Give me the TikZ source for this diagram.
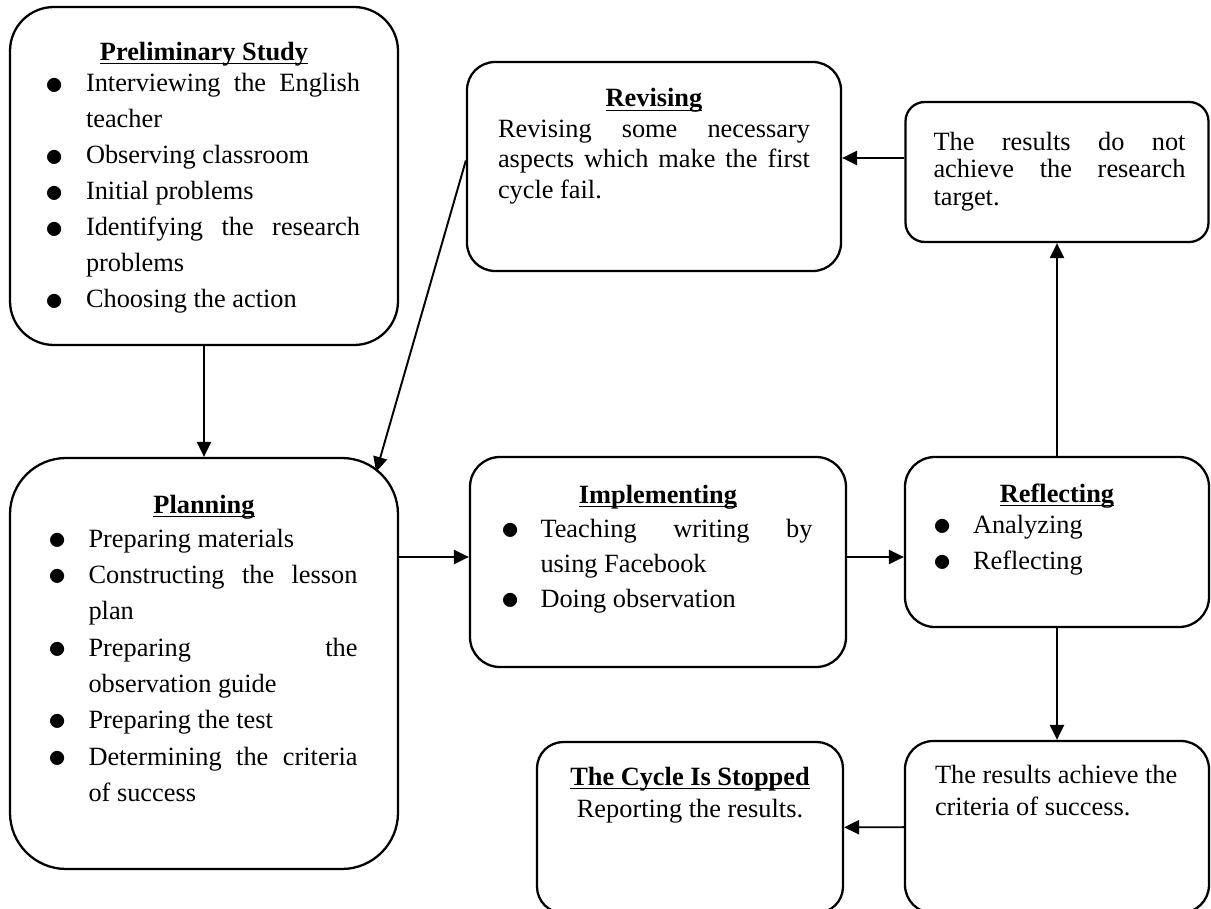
\documentclass[tikz,border=0pt]{standalone}
\usepackage{fontspec}
\setmainfont{Liberation Serif}
\usetikzlibrary{arrows.meta,calc}

\newlength{\px}\setlength{\px}{0.02cm}
\newlength{\bulgap}
\newcommand{\ulbf}[1]{\setbox0\hbox{\bfseries #1}\rlap{\rule[-2.4pt]{\wd0}{0.9pt}}\box0}
\newcommand{\ttl}[3]{{\centering\rule{0pt}{#1\px}\ulbf{#3}\par}\vspace{#2\px}}
\newcommand{\bul}{\raisebox{-1.2pt}{\fontsize{20pt}{0pt}\selectfont$\bullet$}}
\newcommand{\itm}[1]{\par\hangindent=\bulgap\hangafter=1\noindent\makebox[\bulgap][l]{\hspace*{-2\px}\bul}#1\par}
\newcommand{\stagefont}[1]{\fontsize{15pt}{#1\px}\selectfont}

\tikzset{
  stage/.style={draw, line width=1.3pt, inner ysep=0pt},
  arr/.style={-{Triangle[length=8.5pt,width=8pt]}, line width=1.1pt}
}

\begin{document}
\begin{tikzpicture}[x=0.02cm, y=-0.02cm]
\useasboundingbox (0,0) rectangle (1211,909);

\node[stage, rounded corners=25pt, inner xsep=38\px, font=\stagefont{36}] (prelim) at (204,176)
  {\parbox[c][338\px][t]{312\px}{\setlength{\bulgap}{38\px}\sloppy\hyphenpenalty=10000
   \ttl{53}{-4}{Preliminary Study}
   \itm{Interviewing the English\linebreak teacher}
   \itm{Observing classroom}
   \itm{Initial problems}
   \itm{Identifying the research\linebreak problems}
   \itm{Choosing the action}}};

\node[stage, rounded corners=16pt, inner xsep=31\px, font=\stagefont{30.5}] (revising) at (654,166.5)
  {\parbox[c][209\px][t]{312\px}{\sloppy\hyphenpenalty=10000
   \ttl{45}{0}{Revising}
   Revising some necessary\linebreak aspects which make the first\linebreak cycle fail.}};

\node[stage, rounded corners=11pt, inner xsep=23\px, font=\stagefont{27.5}] (notdone) at (1057,172)
  {\hspace*{5\px}\parbox[c][140\px][t]{252\px}{\sloppy\hyphenpenalty=10000
   \rule{0pt}{48\px}The results do not\linebreak achieve the research\linebreak target.}};

\node[stage, rounded corners=32pt, inner xsep=40.5\px, font=\stagefont{36.3}] (planning) at (204,663.5)
  {\parbox[c][411\px][t]{307\px}{\setlength{\bulgap}{38\px}\sloppy\hyphenpenalty=10000
   \ttl{55}{-2}{Planning}
   \itm{Preparing materials}
   \itm{Constructing the lesson\linebreak plan}
   \itm{Preparing the\linebreak observation guide}
   \itm{Preparing the test}
   \itm{Determining the criteria\linebreak of success}}};

\node[stage, rounded corners=17pt, inner xsep=33.5\px, font=\stagefont{35}] (implementing) at (658,562)
  {\parbox[c][210\px][t]{309\px}{\setlength{\bulgap}{37\px}\sloppy\hyphenpenalty=10000
   \ttl{46}{-1}{Implementing}
   \itm{Teaching writing by\linebreak using Facebook}
   \itm{Doing observation}}};

\node[stage, rounded corners=17pt, inner xsep=30\px, font=\stagefont{36}] (reflecting) at (1057,542)
  {\parbox[c][170\px][t]{244\px}{\setlength{\bulgap}{38\px}\sloppy\hyphenpenalty=10000
   \ttl{45}{-5}{Reflecting}
   \itm{Analyzing}
   \itm{Reflecting}}};

\node[stage, rounded corners=16pt, inner xsep=24\px, font=\stagefont{32}] (achieve) at (1057,827)
  {\hspace*{6\px}\parbox[c][172\px][t]{250\px}{\sloppy\hyphenpenalty=10000
   \rule{0pt}{42\px}The results achieve the\\ criteria of success.}};

\node[stage, rounded corners=15pt, inner xsep=20\px, font=\stagefont{32}] (cycle) at (690,827.5)
  {\parbox[c][171\px][t]{266\px}{\sloppy\hyphenpenalty=10000
   \ttl{43}{0}{The Cycle Is Stopped}
   {\centering Reporting the results.\par}}};

\coordinate (impIn) at ([yshift=5\px]implementing.west);
\coordinate (impOut) at ([yshift=5\px]implementing.east);
\coordinate (ndOut) at ([yshift=14\px]notdone.west);

\draw[arr] (prelim) -- (planning);
\draw[arr] ([yshift=6\px]revising.west) -- ($(planning.north east)+(-23,15)$);
\draw[arr] (impIn -| planning.east) -- (impIn);
\draw[arr] (impOut) -- (impOut -| reflecting.west);
\draw[arr] (reflecting) -- (notdone);
\draw[arr] (ndOut) -- (ndOut -| revising.east);
\draw[arr] (reflecting) -- (achieve);
\draw[arr] (achieve) -- (cycle);
\end{tikzpicture}
\end{document}
